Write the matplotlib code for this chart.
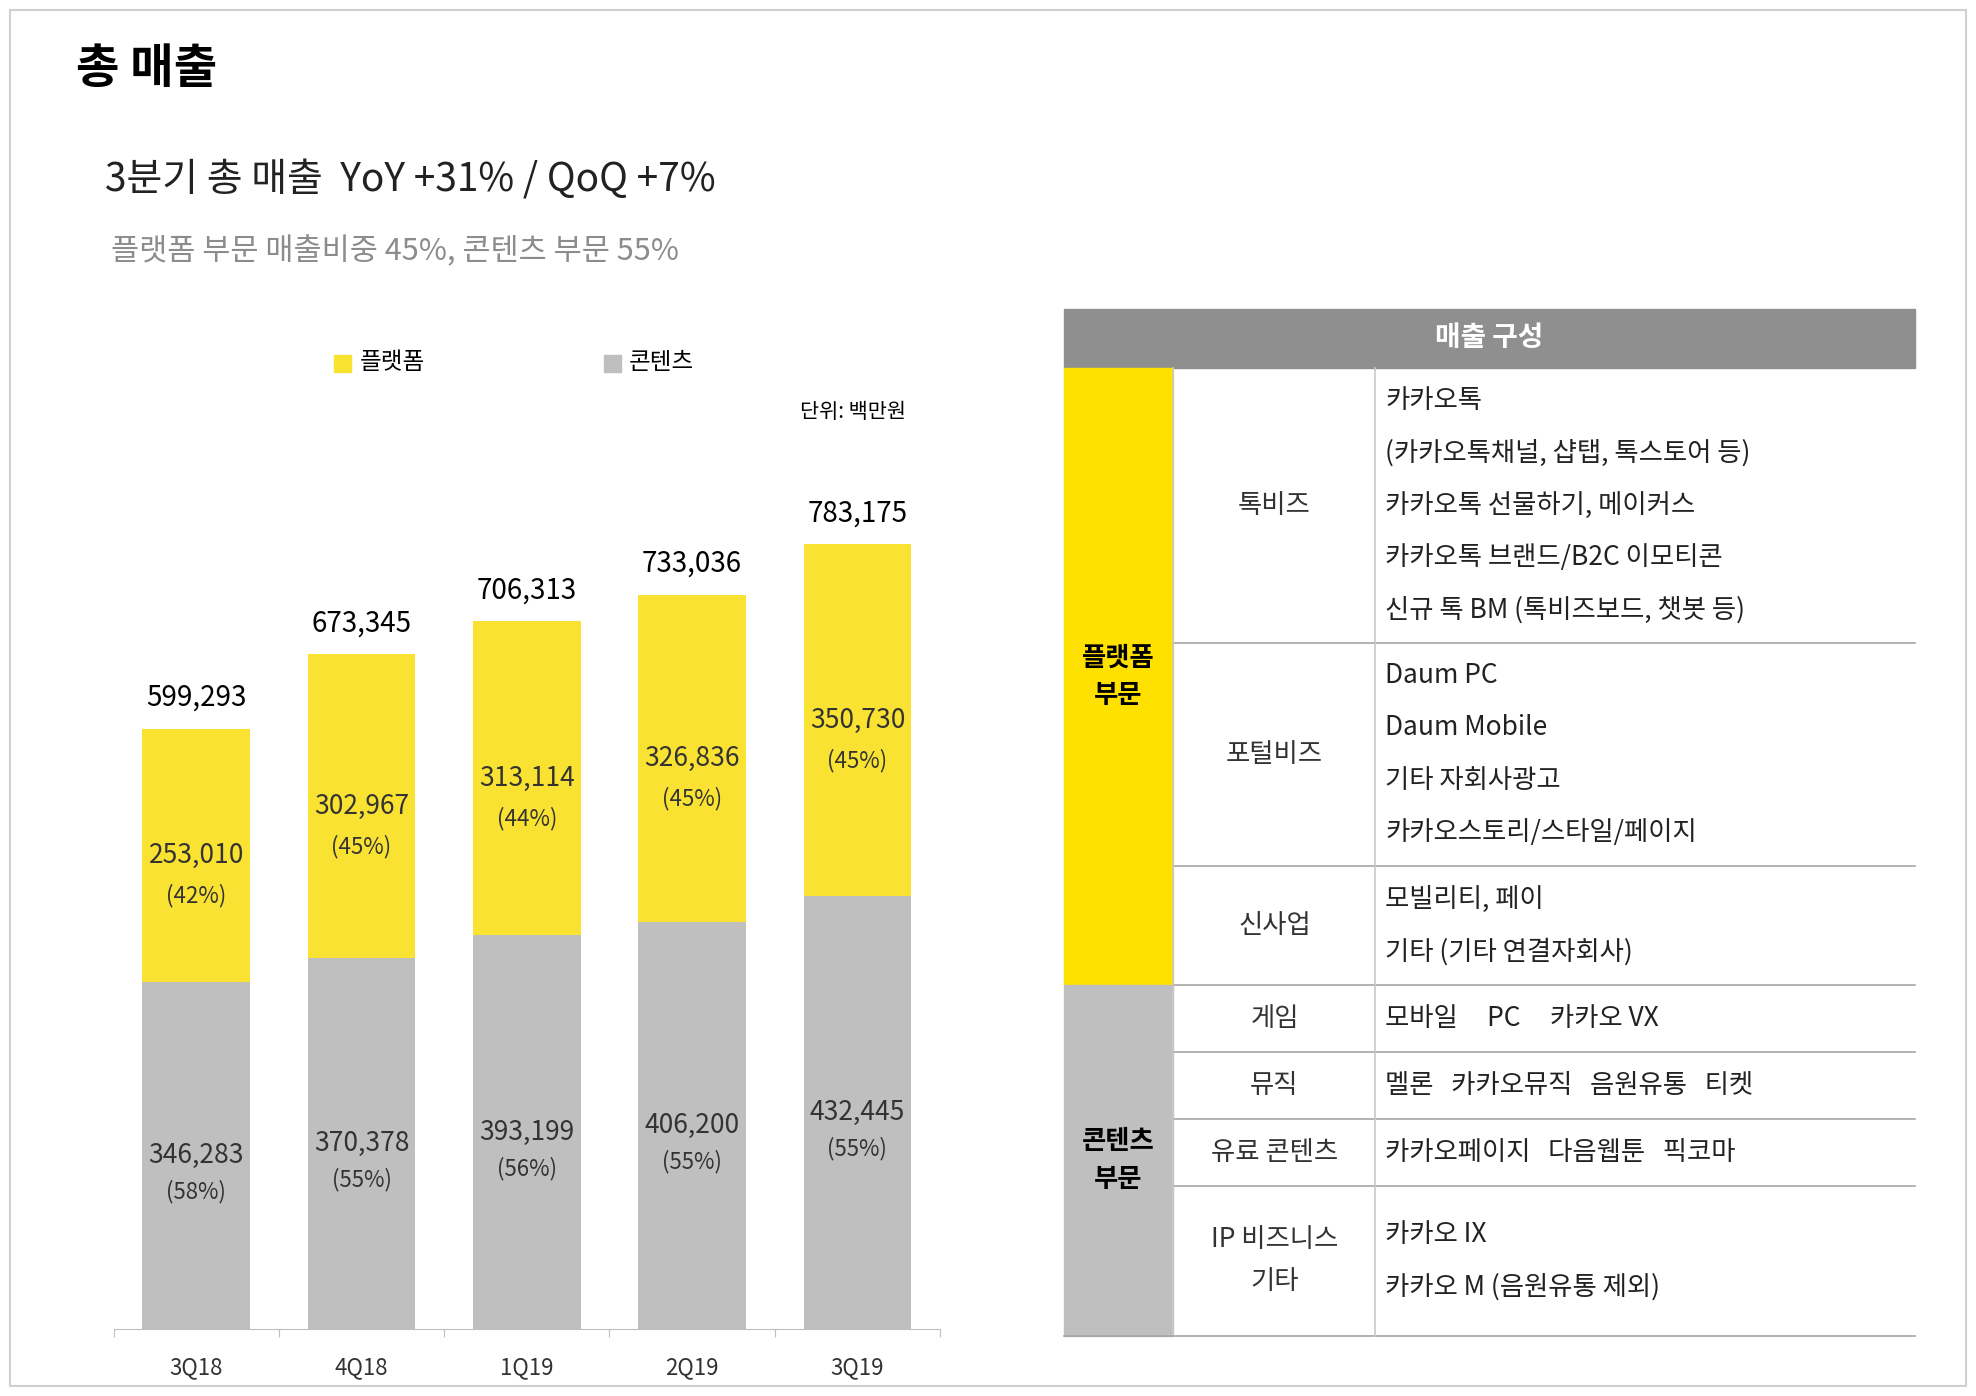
import matplotlib.pyplot as plt
from matplotlib.patches import Rectangle

plt.rcParams['font.family'] = ['Noto Sans CJK KR', 'DejaVu Sans']

quarters = ['3Q18', '4Q18', '1Q19', '2Q19', '3Q19']
platform = [253010, 302967, 313114, 326836, 350730]
contents = [346283, 370378, 393199, 406200, 432445]
platform_pct = ['(42%)', '(45%)', '(44%)', '(45%)', '(45%)']
contents_pct = ['(58%)', '(55%)', '(56%)', '(55%)', '(55%)']
totals = [p + c for p, c in zip(platform, contents)]

YELLOW = '#F9E231'
GRAY = '#BFBFBF'
TXT = '#333333'

fig = plt.figure(figsize=(19.76, 13.96), dpi=100)

# overlay in displayed-pixel coords (1566 x 1108)
ov = fig.add_axes([0, 0, 1, 1])
ov.set_xlim(0, 1566)
ov.set_ylim(1108, 0)
ov.axis('off')
ov.add_patch(Rectangle((8, 8), 1550, 1092, fill=False, ec='#d0d0d0', lw=1.5))

ov.text(60, 55, '총 매출', fontsize=34, fontweight='bold', va='center', ha='left')
ov.text(83, 143, '3분기 총 매출  YoY +31% / QoQ +7%', fontsize=28, va='center', ha='left', color='#222222')
ov.text(88, 200, '플랫폼 부문 매출비중 45%, 콘텐츠 부문 55%', fontsize=22, va='center', ha='left', color='#8c8c8c')

# legend
ov.add_patch(Rectangle((265, 282), 13, 13, color=YELLOW))
ov.text(285, 288, '플랫폼', fontsize=17, va='center', ha='left')
ov.add_patch(Rectangle((479, 282), 13, 13, color=GRAY))
ov.text(498, 288, '콘텐츠', fontsize=17, va='center', ha='left')
ov.text(718, 327, '단위: 백만원', fontsize=15, va='center', ha='right')

# bar chart
ax = fig.add_axes([90 / 1566, 1 - 1055 / 1108, (745 - 90) / 1566, (1055 - 339) / 1108])
ax.set_zorder(2)
ax.patch.set_alpha(0)
x = list(range(len(quarters)))
ax.bar(x, contents, width=0.65, color=GRAY)
ax.bar(x, platform, width=0.65, bottom=contents, color=YELLOW)
ax.set_xlim(-0.5, 4.5)
ax.set_ylim(0, 783175 * 716 / 623)
for s in ['top', 'right', 'left']:
    ax.spines[s].set_visible(False)
ax.spines['bottom'].set_color('#bfbfbf')
ax.set_yticks([])
ax.set_xticks([i - 0.5 for i in range(6)], minor=False)
ax.set_xticklabels([])
ax.tick_params(axis='x', length=6, color='#bfbfbf')
for i, q in enumerate(quarters):
    ax.annotate(q, (i, 0), xytext=(0, -28), textcoords='offset points', ha='center', va='center', fontsize=16, color=TXT)
    ax.annotate(f'{totals[i]:,}', (i, totals[i]), xytext=(0, 22), textcoords='offset points', ha='center', va='center', fontsize=20, color='black')
    yc = contents[i] + platform[i] / 2
    ax.annotate(f'{platform[i]:,}', (i, yc), xytext=(0, 0), textcoords='offset points', ha='center', va='center', fontsize=19, color=TXT)
    ax.annotate(platform_pct[i], (i, yc), xytext=(0, -29), textcoords='offset points', ha='center', va='center', fontsize=16, color=TXT)
    gc = contents[i] / 2
    ax.annotate(f'{contents[i]:,}', (i, gc), xytext=(0, 0), textcoords='offset points', ha='center', va='center', fontsize=19, color=TXT)
    ax.annotate(contents_pct[i], (i, gc), xytext=(0, -26), textcoords='offset points', ha='center', va='center', fontsize=16, color=TXT)

# table
x0, x1, x2, x3 = 843, 930, 1090, 1518
ov.add_patch(Rectangle((x0, 245), x3 - x0, 47, color='#8f8f8f'))
ov.text((x0 + x3) / 2, 268, '매출 구성', fontsize=20, fontweight='bold', color='white', ha='center', va='center')
ov.add_patch(Rectangle((x0, 292), x1 - x0, 782 - 292, color='#FFE100'))
ov.add_patch(Rectangle((x0, 782), x1 - x0, 1060 - 782, color=GRAY))
ov.text((x0 + x1) / 2, 537, '플랫폼\n부문', fontsize=19, fontweight='bold', ha='center', va='center', linespacing=1.5)
ov.text((x0 + x1) / 2, 921, '콘텐츠\n부문', fontsize=19, fontweight='bold', ha='center', va='center', linespacing=1.5)

rows = [
    ('톡비즈', 292, 510, ['카카오톡', '(카카오톡채널, 샵탭, 톡스토어 등)', '카카오톡 선물하기, 메이커스',
                          '카카오톡 브랜드/B2C 이모티콘', '신규 톡 BM (톡비즈보드, 챗봇 등)']),
    ('포털비즈', 510, 687, ['Daum PC', 'Daum Mobile', '기타 자회사광고', '카카오스토리/스타일/페이지']),
    ('신사업', 687, 782, ['모빌리티, 페이', '기타 (기타 연결자회사)']),
    ('게임', 782, 835, ['모바일     PC     카카오 VX']),
    ('뮤직', 835, 888, ['멜론   카카오뮤직   음원유통   티켓']),
    ('유료 콘텐츠', 888, 941, ['카카오페이지   다음웹툰   픽코마']),
    ('IP 비즈니스\n기타', 941, 1060, ['카카오 IX', '카카오 M (음원유통 제외)']),
]
for name, top, bot, lines in rows:
    mid = (top + bot) / 2
    ov.text((x1 + x2) / 2, mid, name, fontsize=19, ha='center', va='center', color=TXT, linespacing=1.75)
    n = len(lines)
    for k, ln in enumerate(lines):
        ov.text(x2 + 8, mid + (k - (n - 1) / 2) * 41.5, ln, fontsize=19, ha='left', va='center', color='#222222')
    ov.plot([x1, x3], [bot, bot], color='#a6a6a6', lw=1.2)
ov.plot([x1, x1], [292, 1060], color='#c8c8c8', lw=1.2)
ov.plot([x2, x2], [292, 1060], color='#c8c8c8', lw=1.2)
ov.plot([x0, x1], [1060, 1060], color='#a6a6a6', lw=1.2)

fig.savefig('out.png', dpi=100)
